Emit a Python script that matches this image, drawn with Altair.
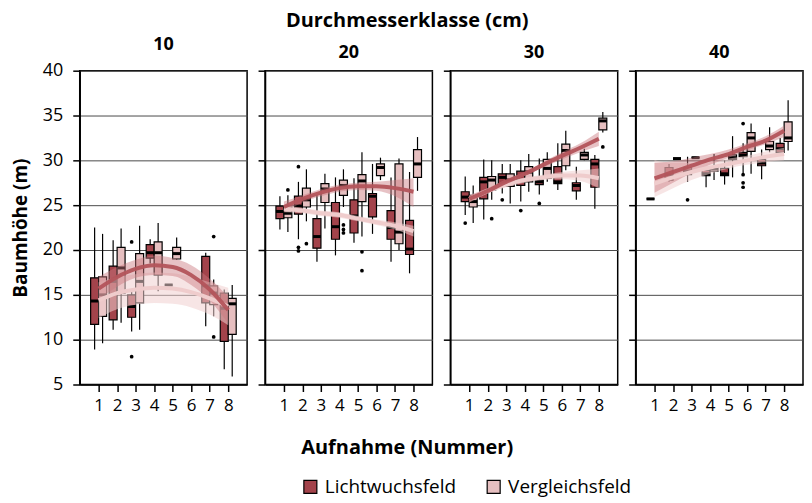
import altair as alt
import pandas as pd

aufnahme = [1, 2, 3, 4, 5, 6, 7, 8]
klassen = [10, 20, 30, 40]
gruppen = ["Lichtwuchsfeld", "Vergleichsfeld"]

# box statistics per Aufnahme: (lower whisker, q1, median, q3, upper whisker); None = no data
box_licht_10 = [(8.9, 11.7, 14.3, 16.9, 22.5), (11.1, 12.2, 16.5, 18.2, 21.1), (10.9, 12.5, 13.7, 15.0, 15.6),
                (18.5, 19.1, 19.7, 20.6, 21.2), (16.1, 16.1, 16.1, 16.1, 16.1), None,
                (11.5, 14.1, 16.0, 19.3, 19.7), (6.7, 9.8, 13.5, 15.2, 15.6)]
box_vergl_10 = [(9.6, 12.6, 15.0, 17.0, 21.8), (11.9, 15.2, 18.0, 20.3, 22.4), (11.1, 14.1, 16.5, 19.6, 22.7),
                (15.4, 17.2, 19.7, 20.9, 23.0), (18.9, 19.0, 19.6, 20.3, 21.4), None,
                (12.6, 13.9, 15.2, 16.0, 16.7), (5.9, 10.6, 14.0, 14.6, 16.1)]
box_licht_20 = [(22.3, 23.5, 24.3, 24.9, 26.0), (21.2, 24.0, 24.9, 26.0, 27.6), (18.7, 20.2, 21.5, 23.5, 26.1),
                (19.4, 21.2, 22.6, 25.3, 28.1), (20.8, 21.9, 23.8, 25.6, 28.0), (21.8, 23.7, 26.0, 26.3, 29.6),
                (18.7, 21.2, 22.5, 24.4, 28.1), (17.4, 19.5, 20.1, 23.3, 28.7)]
box_vergl_20 = [(22.0, 23.6, 24.1, 24.8, 26.1), (23.2, 24.8, 25.6, 26.9, 29.0), (22.4, 25.3, 26.8, 27.4, 28.5),
                (24.8, 26.1, 27.2, 27.8, 29.0), (21.5, 25.4, 27.7, 28.4, 30.9), (27.8, 28.3, 29.2, 29.6, 30.3),
                (20.0, 20.7, 22.0, 29.6, 30.2), (26.6, 28.1, 29.6, 31.2, 32.6)]
box_licht_30 = [(23.9, 25.4, 25.9, 26.5, 28.2), (23.4, 25.7, 27.6, 28.1, 30.1), (26.3, 27.1, 28.1, 28.5, 29.6),
                (25.4, 27.2, 27.7, 28.8, 30.0), (26.2, 27.3, 27.6, 27.8, 30.2), (26.7, 27.4, 27.6, 29.3, 31.9),
                (25.6, 26.6, 27.2, 27.5, 29.3), (24.6, 27.0, 29.6, 30.1, 30.6)]
box_vergl_30 = [(23.0, 24.8, 25.4, 26.1, 27.2), (25.6, 26.7, 27.8, 28.2, 30.0), (25.2, 27.1, 27.8, 28.5, 29.6),
                (26.5, 27.6, 28.7, 29.3, 30.7), (27.6, 28.0, 29.1, 30.1, 30.9), (28.9, 29.4, 31.1, 31.8, 33.3),
                (30.0, 30.1, 30.6, 30.9, 31.3), (33.1, 33.4, 34.4, 34.7, 35.4)]
box_licht_40 = [(25.7, 25.7, 25.7, 25.7, 25.7), (27.6, 27.8, 28.4, 29.2, 29.6), (27.6, 28.4, 28.8, 29.2, 30.4),
                (27.0, 28.3, 28.5, 28.9, 29.3), (27.3, 28.3, 28.5, 29.1, 30.0), (28.5, 30.4, 30.6, 30.9, 31.9),
                (27.9, 29.4, 29.7, 30.1, 31.2), (30.5, 30.9, 31.3, 31.9, 32.5)]
box_vergl_40 = [None, (30.2, 30.2, 30.2, 30.2, 30.2), (30.3, 30.3, 30.3, 30.3, 30.3),
                (27.8, 28.8, 29.1, 29.3, 30.7), (28.1, 30.1, 30.3, 30.6, 32.7), (28.5, 31.0, 32.5, 33.1, 34.1),
                (30.9, 31.2, 31.6, 32.1, 33.7), (31.1, 32.1, 32.5, 34.3, 36.7)]

# outliers: (Aufnahme, height)
out_licht_10 = [(3, 20.9), (3, 8.1)]
out_vergl_10 = [(7, 21.5), (7, 10.3)]
out_licht_20 = [(2, 29.3), (2, 20.3), (2, 19.9)]
out_vergl_20 = [(1, 26.7), (2, 20.7), (4, 22.8), (4, 22.3), (4, 21.9), (5, 19.8), (5, 17.7)]
out_licht_30 = [(1, 23.0), (3, 25.6), (4, 24.4), (5, 25.2)]
out_vergl_30 = [(2, 23.5), (8, 31.5)]
out_licht_40 = [(3, 25.6), (6, 34.1), (6, 28.4), (6, 27.5), (6, 27.0)]
out_vergl_40 = []

# smoothed trends with confidence band (dark = Lichtwuchsfeld colour, light = Vergleichsfeld colour)
fit_licht_10 = [15.7, 17.0, 17.9, 18.3, 18.1, 17.2, 15.6, 13.3]
fitlo_licht_10 = [14.4, 15.9, 16.9, 17.2, 17.1, 16.1, 14.4, 11.8]
fithi_licht_10 = [17.0, 18.1, 18.9, 19.4, 19.1, 18.3, 16.8, 14.8]
fit_vergl_10 = [14.4, 15.2, 15.6, 15.8, 15.7, 15.3, 14.6, 13.7]
fitlo_vergl_10 = [12.4, 13.4, 13.9, 14.1, 14.0, 13.6, 12.8, 11.6]
fithi_vergl_10 = [16.4, 17.0, 17.3, 17.5, 17.4, 17.0, 16.4, 15.8]

fit_licht_20 = [24.8, 25.7, 26.4, 26.9, 27.1, 27.1, 26.9, 26.5]
fitlo_licht_20 = [24.2, 25.3, 26.0, 26.5, 26.7, 26.6, 26.0, 24.8]
fithi_licht_20 = [25.4, 26.1, 26.8, 27.3, 27.5, 27.6, 27.8, 28.0]
fit_vergl_20 = [24.6, 24.4, 24.1, 23.9, 23.5, 23.1, 22.7, 22.1]
fitlo_vergl_20 = [24.2, 24.1, 23.8, 23.6, 23.2, 22.8, 22.3, 21.5]
fithi_vergl_20 = [25.0, 24.7, 24.4, 24.2, 23.8, 23.4, 23.1, 22.7]

fit_licht_30 = [25.7, 26.6, 27.6, 28.5, 29.5, 30.5, 31.4, 32.4]
fitlo_licht_30 = [25.3, 26.3, 27.3, 28.3, 29.2, 30.1, 30.9, 31.6]
fithi_licht_30 = [26.1, 26.9, 27.9, 28.7, 29.8, 30.9, 31.9, 33.2]
fit_vergl_30 = [25.7, 26.6, 27.3, 27.8, 28.1, 28.3, 28.3, 28.0]
fitlo_vergl_30 = [25.3, 26.3, 27.0, 27.5, 27.8, 27.9, 27.7, 26.9]
fithi_vergl_30 = [26.1, 26.9, 27.6, 28.1, 28.4, 28.7, 28.9, 29.1]

fit_licht_40 = [28.0, 28.7, 29.4, 30.1, 30.7, 31.5, 32.2, 33.3]
fitlo_licht_40 = [26.4, 27.5, 28.6, 29.5, 30.3, 31.1, 31.8, 32.6]
fithi_licht_40 = [29.7, 29.9, 30.3, 30.7, 31.2, 31.9, 32.7, 33.9]
fit_vergl_40 = [27.4, 28.1, 28.7, 29.2, 29.6, 30.0, 30.4, 30.7]
fitlo_vergl_40 = [25.9, 26.9, 27.8, 28.5, 29.1, 29.5, 29.8, 30.0]
fithi_vergl_40 = [30.0, 29.7, 29.7, 29.9, 30.2, 30.5, 31.0, 31.4]

# ---------------------------------------------------------------- tables
box_tables = {
    (10, gruppen[0]): box_licht_10, (10, gruppen[1]): box_vergl_10,
    (20, gruppen[0]): box_licht_20, (20, gruppen[1]): box_vergl_20,
    (30, gruppen[0]): box_licht_30, (30, gruppen[1]): box_vergl_30,
    (40, gruppen[0]): box_licht_40, (40, gruppen[1]): box_vergl_40,
}
out_tables = {
    (10, gruppen[0]): out_licht_10, (10, gruppen[1]): out_vergl_10,
    (20, gruppen[0]): out_licht_20, (20, gruppen[1]): out_vergl_20,
    (30, gruppen[0]): out_licht_30, (30, gruppen[1]): out_vergl_30,
    (40, gruppen[0]): out_licht_40, (40, gruppen[1]): out_vergl_40,
}
fit_tables = {
    (10, gruppen[0]): (fit_licht_10, fitlo_licht_10, fithi_licht_10),
    (10, gruppen[1]): (fit_vergl_10, fitlo_vergl_10, fithi_vergl_10),
    (20, gruppen[0]): (fit_licht_20, fitlo_licht_20, fithi_licht_20),
    (20, gruppen[1]): (fit_vergl_20, fitlo_vergl_20, fithi_vergl_20),
    (30, gruppen[0]): (fit_licht_30, fitlo_licht_30, fithi_licht_30),
    (30, gruppen[1]): (fit_vergl_30, fitlo_vergl_30, fithi_vergl_30),
    (40, gruppen[0]): (fit_licht_40, fitlo_licht_40, fithi_licht_40),
    (40, gruppen[1]): (fit_vergl_40, fitlo_vergl_40, fithi_vergl_40),
}

rows = []
for (k, g), stats in box_tables.items():
    for a, s in zip(aufnahme, stats):
        if s is None:
            continue
        lo, q1, md, q3, hi = s
        rows.append(dict(klasse=k, gruppe=g, aufnahme=a, lo=lo, q1=q1, median=md, q3=q3, hi=hi))
boxes = pd.DataFrame(rows)

orows = []
for (k, g), pts in out_tables.items():
    for a, v in pts:
        orows.append(dict(klasse=k, gruppe=g, aufnahme=a, wert=v))
outl = pd.DataFrame(orows, columns=["klasse", "gruppe", "aufnahme", "wert"])

frows = []
for (k, g), (f, lo, hi) in fit_tables.items():
    for a, fv, lv, hv in zip(aufnahme, f, lo, hi):
        frows.append(dict(klasse=k, gruppe=g, aufnahme=a, fit=fv, lo=lv, hi=hv))
fits = pd.DataFrame(frows)

# ---------------------------------------------------------------- styling
FONT = "Open Sans"
DARK = "#a3434b"
LIGHT = "#e6bfc0"
LINE_DARK = "#b3545b"
BAND_DARK = "#c9787e"
LINE_LIGHT = "#efcccc"
BAND_LIGHT = "#f0cfcf"
OFFSETS = {gruppen[0]: -4, gruppen[1]: 4}


def xenc():
    return alt.X("aufnahme:Q", scale=alt.Scale(domain=[0.25, 8.75], nice=False, zero=False),
                 axis=alt.Axis(values=aufnahme, title=None, grid=False, format="d", tickSize=7,
                               labelPadding=6, labelFontSize=17))


def yenc(field, first):
    return alt.Y(f"{field}:Q", scale=alt.Scale(domain=[5, 40], nice=False, zero=False),
                 axis=alt.Axis(values=list(range(5, 41, 5)), title="Baumhöhe (m)" if first else None,
                               labels=first, grid=True, tickSize=7, labelPadding=10, labelFontSize=18,
                               titleFontSize=19, titleFontWeight="bold", titlePadding=12))


color = alt.Color("gruppe:N", scale=alt.Scale(domain=gruppen, range=[DARK, LIGHT]),
                  legend=alt.Legend(title=None, orient="none", legendX=222, legendY=408,
                                    direction="horizontal", symbolType="square", symbolSize=170,
                                    symbolStrokeColor="black", symbolStrokeWidth=1.2,
                                    labelFontSize=19, labelFont=FONT, labelOffset=5,
                                    columnPadding=28))


def panel(k, first):
    layers = []
    for g in gruppen:
        off = OFFSETS[g]
        bd = boxes[(boxes.klasse == k) & (boxes.gruppe == g)]
        od = outl[(outl.klasse == k) & (outl.gruppe == g)]
        base = alt.Chart(bd)
        layers.append(base.mark_rule(color="black", strokeWidth=1.2, xOffset=off).encode(
            x=xenc(), y=yenc("lo", first), y2="hi:Q"))
        layers.append(base.mark_bar(size=8, stroke="black", strokeWidth=1.2, xOffset=off, opacity=1).encode(
            x=xenc(), y=yenc("q1", first), y2="q3:Q", color=color))
        layers.append(base.mark_tick(orient="horizontal", size=8, thickness=3, color="black",
                                     xOffset=off, opacity=1).encode(x=xenc(), y=yenc("median", first)))
        if len(od):
            layers.append(alt.Chart(od).mark_circle(size=14, color="black", opacity=1, xOffset=off).encode(
                x=xenc(), y=yenc("wert", first)))
    fl = fits[(fits.klasse == k) & (fits.gruppe == gruppen[1])]
    fd = fits[(fits.klasse == k) & (fits.gruppe == gruppen[0])]
    layers.append(alt.Chart(fl).mark_area(interpolate="monotone", color=BAND_LIGHT, opacity=0.55).encode(
        x=xenc(), y=yenc("lo", first), y2="hi:Q"))
    layers.append(alt.Chart(fd).mark_area(interpolate="monotone", color=BAND_DARK, opacity=0.45).encode(
        x=xenc(), y=yenc("lo", first), y2="hi:Q"))
    layers.append(alt.Chart(fl).mark_line(interpolate="monotone", color=LINE_LIGHT, strokeWidth=4).encode(
        x=xenc(), y=yenc("fit", first)))
    layers.append(alt.Chart(fd).mark_line(interpolate="monotone", color=LINE_DARK, strokeWidth=4,
                                          opacity=0.95).encode(x=xenc(), y=yenc("fit", first)))
    return alt.layer(*layers).properties(
        width=168, height=315,
        title=alt.TitleParams(str(k), fontSize=18, fontWeight="bold", font=FONT, offset=8, anchor="middle"))


panels = [panel(k, i == 0) for i, k in enumerate(klassen)]
row = alt.hconcat(*panels, spacing=8).properties(
    title=alt.TitleParams("Aufnahme (Nummer)", orient="bottom", anchor="middle", fontSize=20,
                          fontWeight="bold", font=FONT, offset=24))
chart = alt.vconcat(row, padding={"left": 2, "top": 2, "right": 0, "bottom": 0}).properties(
    title=alt.TitleParams("Durchmesserklasse (cm)", anchor="middle", fontSize=20, fontWeight="bold",
                          font=FONT, offset=4)
).configure_axis(
    labelFont=FONT, titleFont=FONT, labelColor="black", titleColor="black",
    domainColor="black", domainWidth=1.5, tickColor="black", tickWidth=1.5,
    gridColor="#4a4a4a", gridWidth=1
).configure_view(stroke="black", strokeWidth=1.5)

chart.save("out.html", embed_options={"renderer": "svg", "actions": False})
